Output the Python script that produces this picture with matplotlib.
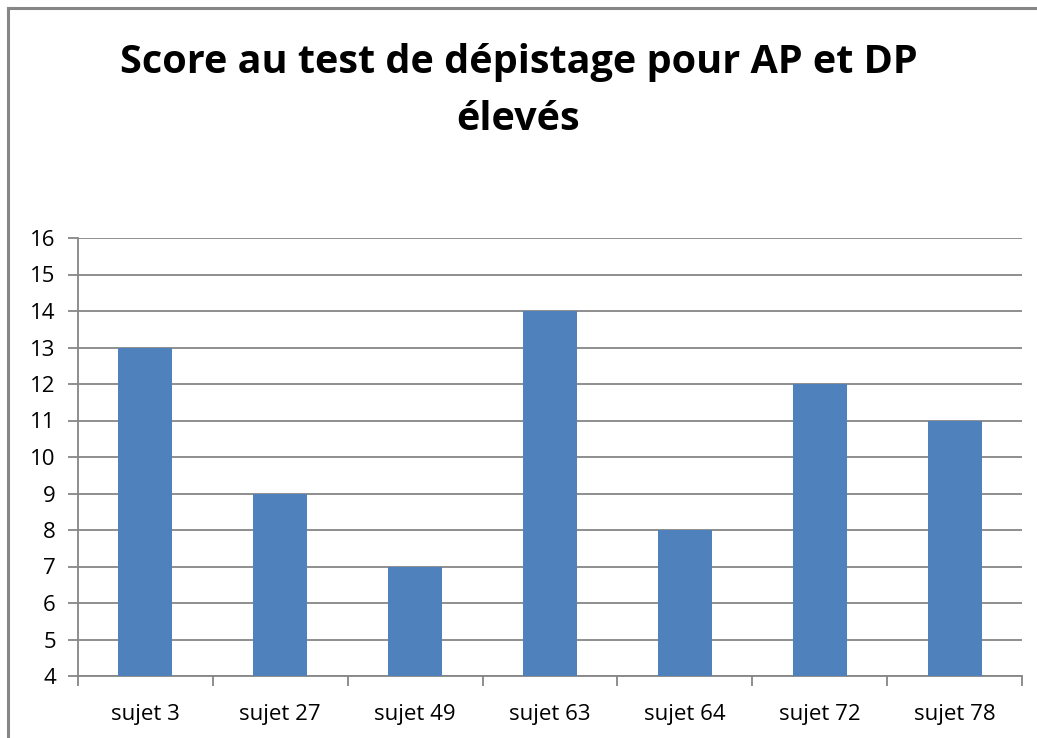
import matplotlib.pyplot as plt
from matplotlib.lines import Line2D

# === Data ===
subjects = ["sujet 3", "sujet 27", "sujet 49", "sujet 63", "sujet 64", "sujet 72", "sujet 78"]
scores = [13, 9, 7, 14, 8, 12, 11]
yticks = list(range(4, 17))

W, H = 1037, 738
fig = plt.figure(figsize=(W / 100, H / 100), dpi=100)
plt.rcParams['font.family'] = ['Open Sans', 'DejaVu Sans']

# chart area border (left + top only visible)
fig.add_artist(Line2D([8 / W, 8 / W], [0, 1 - 8 / H], color='#868686', lw=2.2,
                      transform=fig.transFigure))
fig.add_artist(Line2D([8 / W, 1], [1 - 8 / H, 1 - 8 / H], color='#868686', lw=2.2,
                      transform=fig.transFigure))

ax = fig.add_axes([78 / W, 1 - 676 / H, (1022 - 78) / W, (676 - 238) / H])

x = range(len(subjects))
ax.bar(x, [s - 4 for s in scores], bottom=4, width=0.4, color='#4F81BD', zorder=3)

ax.set_xlim(-0.5, len(subjects) - 0.5)
ax.set_ylim(4, 16)
ax.set_yticks(yticks)
ax.set_yticklabels([str(v) for v in yticks], fontsize=16)
ax.yaxis.grid(True, color='#868686', lw=1.3, zorder=0)

# x ticks at category boundaries, labels centred
ax.set_xticks([i - 0.5 for i in range(len(subjects) + 1)])
ax.set_xticklabels([])
ax.set_xticks(list(x), minor=True)
ax.set_xticklabels(subjects, minor=True, fontsize=16)
ax.tick_params(axis='x', which='minor', length=0, pad=20)
ax.tick_params(axis='x', which='major', length=7, width=1.3, color='#868686')
ax.tick_params(axis='y', length=7, width=1.3, color='#868686', pad=9)

for side in ['top', 'right']:
    ax.spines[side].set_visible(False)
for side in ['left', 'bottom']:
    ax.spines[side].set_color('#868686')
    ax.spines[side].set_linewidth(1.3)

fig.text(0.5, 1 - 62 / H, "Score au test de dépistage pour AP et DP", ha='center', va='center',
         fontsize=28.5, fontweight='bold')
fig.text(0.5, 1 - 120 / H, "élevés", ha='center', va='center',
         fontsize=28.5, fontweight='bold')

fig.savefig("out.png", dpi=100)
